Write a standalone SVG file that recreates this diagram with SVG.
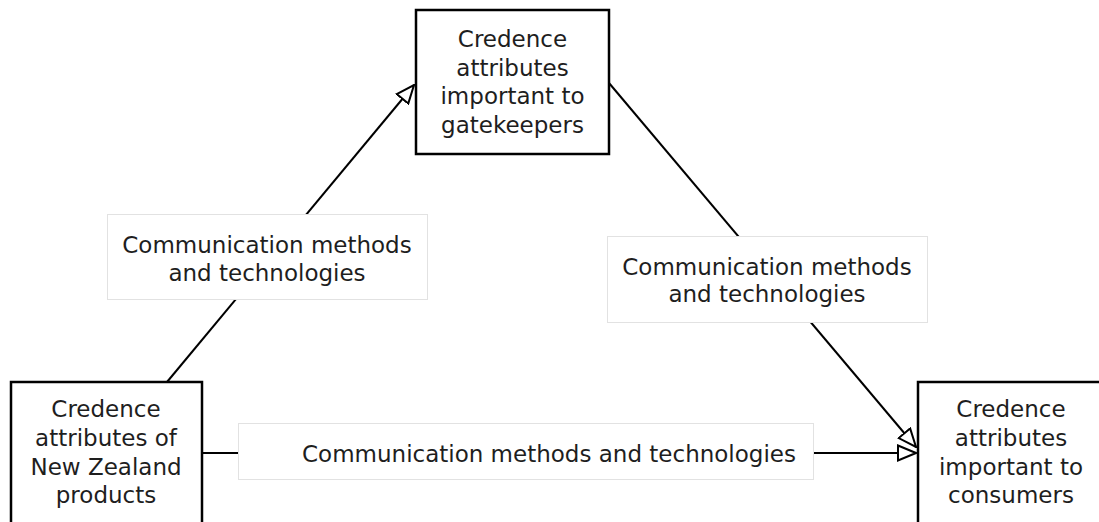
<svg xmlns="http://www.w3.org/2000/svg" width="1099" height="522" viewBox="0 0 1099 522">
<style>
.box{fill:#fff;stroke:#000;stroke-width:2.5}
.lbl{fill:#fff;stroke:#e2e2e2;stroke-width:1}
.t{font-family:"DejaVu Sans",sans-serif;font-size:23px;fill:#1e1e1e;text-anchor:middle}
.c{fill:none;stroke:#000;stroke-width:2}
</style>
<defs>
<marker id="arr" viewBox="0 0 20 18" refX="19" refY="9" markerWidth="20" markerHeight="18" markerUnits="userSpaceOnUse" orient="auto">
<path d="M1,1.5 L19,9 L1,16.5 Z" fill="#fff" stroke="#000" stroke-width="2"/>
</marker>
</defs>
<rect width="1099" height="522" fill="#fff"/>
<g id="connectors">
<line class="c" x1="167" y1="382" x2="414" y2="85" marker-end="url(#arr)"/>
<line class="c" x1="609" y1="83" x2="916" y2="447" marker-end="url(#arr)"/>
<line class="c" x1="202" y1="453" x2="916" y2="453" marker-end="url(#arr)"/>
</g>
<g id="label-left">
<rect class="lbl" x="107.5" y="214.5" width="320" height="85"/>
<text class="t" x="267" y="253">Communication methods</text>
<text class="t" x="267" y="281">and technologies</text>
</g>
<g id="label-right">
<rect class="lbl" x="607.5" y="236.5" width="320" height="86"/>
<text class="t" x="767" y="275">Communication methods</text>
<text class="t" x="767" y="302">and technologies</text>
</g>
<g id="label-bottom">
<rect class="lbl" x="238.5" y="423.5" width="575" height="56"/>
<text class="t" x="549" y="462">Communication methods and technologies</text>
</g>
<g id="node-gatekeepers">
<rect class="box" x="416" y="10" width="193" height="144"/>
<text class="t" x="512.5" y="47">Credence</text>
<text class="t" x="512.5" y="75.5">attributes</text>
<text class="t" x="512.5" y="104">important to</text>
<text class="t" x="512.5" y="132.5">gatekeepers</text>
</g>
<g id="node-nz">
<rect class="box" x="11" y="382" width="191" height="160"/>
<text class="t" x="106" y="417">Credence</text>
<text class="t" x="106" y="446">attributes of</text>
<text class="t" x="106" y="475">New Zealand</text>
<text class="t" x="106" y="503">products</text>
</g>
<g id="node-consumers">
<rect class="box" x="918" y="382" width="190" height="160"/>
<text class="t" x="1011" y="417">Credence</text>
<text class="t" x="1011" y="446">attributes</text>
<text class="t" x="1011" y="475">important to</text>
<text class="t" x="1011" y="503">consumers</text>
</g>
</svg>
